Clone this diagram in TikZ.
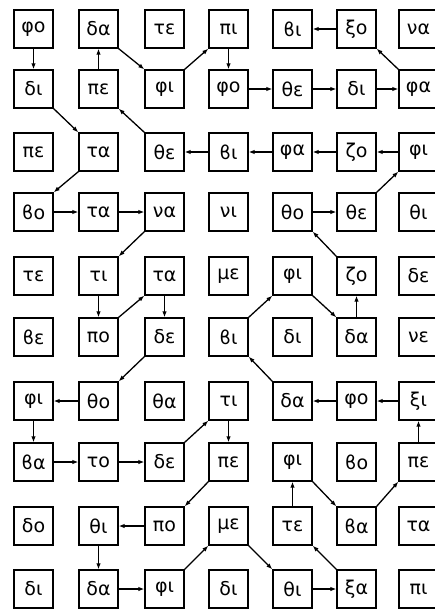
\documentclass[tikz,border=0pt]{standalone}
\usepackage{fontspec}
\setmainfont{DejaVu Sans}
\usetikzlibrary{arrows.meta}
\tikzset{
  box/.style={draw, line width=1.3pt, minimum width=39pt, minimum height=38pt, inner sep=0pt, font=\fontsize{19}{19}\selectfont},
  arr/.style={line width=1.3pt, -{Latex[length=6pt,width=4.5pt]}}
}
\begin{document}
\begin{tikzpicture}[x=1pt,y=-1pt]
\useasboundingbox (0,0) rectangle (435,610);
\clip (0,0) rectangle (435,610);
% row 1 (y=29)
\node[box] (n-1-1) at (33.5,29) {φο};
\node[box] (n-1-2) at (98.5,29) {δα};
\node[box] (n-1-3) at (164.5,29) {τε};
\node[box] (n-1-4) at (228.5,29) {πι};
\node[box] (n-1-5) at (292.5,29) {ϐι};
\node[box] (n-1-6) at (356.5,29) {ξο};
\node[box] (n-1-7) at (418.5,29) {να};
% row 2 (y=89)
\node[box] (n-2-1) at (33.5,89) {δι};
\node[box] (n-2-2) at (98.5,89) {πε};
\node[box] (n-2-3) at (164.5,89) {φι};
\node[box] (n-2-4) at (228.5,89) {φο};
\node[box] (n-2-5) at (292.5,89) {θε};
\node[box] (n-2-6) at (356.5,89) {δι};
\node[box] (n-2-7) at (418.5,89) {φα};
% row 3 (y=152)
\node[box] (n-3-1) at (33.5,152) {πε};
\node[box] (n-3-2) at (98.5,152) {τα};
\node[box] (n-3-3) at (164.5,152) {θε};
\node[box] (n-3-4) at (228.5,152) {ϐι};
\node[box] (n-3-5) at (292.5,152) {φα};
\node[box] (n-3-6) at (356.5,152) {ζο};
\node[box] (n-3-7) at (418.5,152) {φι};
% row 4 (y=212)
\node[box] (n-4-1) at (33.5,212) {ϐο};
\node[box] (n-4-2) at (98.5,212) {τα};
\node[box] (n-4-3) at (164.5,212) {να};
\node[box] (n-4-4) at (228.5,212) {νι};
\node[box] (n-4-5) at (292.5,212) {θο};
\node[box] (n-4-6) at (356.5,212) {θε};
\node[box] (n-4-7) at (418.5,212) {θι};
% row 5 (y=276)
\node[box] (n-5-1) at (33.5,276) {τε};
\node[box] (n-5-2) at (98.5,276) {τι};
\node[box] (n-5-3) at (164.5,276) {τα};
\node[box] (n-5-4) at (228.5,276) {με};
\node[box] (n-5-5) at (292.5,276) {φι};
\node[box] (n-5-6) at (356.5,276) {ζο};
\node[box] (n-5-7) at (418.5,276) {δε};
% row 6 (y=337)
\node[box] (n-6-1) at (33.5,337) {ϐε};
\node[box] (n-6-2) at (98.5,337) {πο};
\node[box] (n-6-3) at (164.5,337) {δε};
\node[box] (n-6-4) at (228.5,337) {ϐι};
\node[box] (n-6-5) at (292.5,337) {δι};
\node[box] (n-6-6) at (356.5,337) {δα};
\node[box] (n-6-7) at (418.5,337) {νε};
% row 7 (y=401)
\node[box] (n-7-1) at (33.5,401) {φι};
\node[box] (n-7-2) at (98.5,401) {θο};
\node[box] (n-7-3) at (164.5,401) {θα};
\node[box] (n-7-4) at (228.5,401) {τι};
\node[box] (n-7-5) at (292.5,401) {δα};
\node[box] (n-7-6) at (356.5,401) {φο};
\node[box] (n-7-7) at (418.5,401) {ξι};
% row 8 (y=462)
\node[box] (n-8-1) at (33.5,462) {ϐα};
\node[box] (n-8-2) at (98.5,462) {το};
\node[box] (n-8-3) at (164.5,462) {δε};
\node[box] (n-8-4) at (228.5,462) {πε};
\node[box] (n-8-5) at (292.5,462) {φι};
\node[box] (n-8-6) at (356.5,462) {ϐο};
\node[box] (n-8-7) at (418.5,462) {πε};
% row 9 (y=526)
\node[box] (n-9-1) at (33.5,526) {δο};
\node[box] (n-9-2) at (98.5,526) {θι};
\node[box] (n-9-3) at (164.5,526) {πο};
\node[box] (n-9-4) at (228.5,526) {με};
\node[box] (n-9-5) at (292.5,526) {τε};
\node[box] (n-9-6) at (356.5,526) {ϐα};
\node[box] (n-9-7) at (418.5,526) {τα};
% row 10 (y=589)
\node[box] (n-10-1) at (33.5,589) {δι};
\node[box] (n-10-2) at (98.5,589) {δα};
\node[box] (n-10-3) at (164.5,589) {φι};
\node[box] (n-10-4) at (228.5,589) {δι};
\node[box] (n-10-5) at (292.5,589) {θι};
\node[box] (n-10-6) at (356.5,589) {ξα};
\node[box] (n-10-7) at (418.5,589) {πι};
% arrows
\draw[arr] (n-1-1) -- (n-2-1);
\draw[arr] (n-2-2) -- (n-1-2);
\draw[arr] (n-1-2.south east) -- (n-2-3.north west);
\draw[arr] (n-2-3.north east) -- (n-1-4.south west);
\draw[arr] (n-1-4) -- (n-2-4);
\draw[arr] (n-2-4) -- (n-2-5);
\draw[arr] (n-2-5) -- (n-2-6);
\draw[arr] (n-2-6) -- (n-2-7);
\draw[arr] (n-2-7.north west) -- (n-1-6.south east);
\draw[arr] (n-1-6) -- (n-1-5);
\draw[arr] (n-2-1.south east) -- (n-3-2.north west);
\draw[arr] (n-3-3.north west) -- (n-2-2.south east);
\draw[arr] (n-3-4) -- (n-3-3);
\draw[arr] (n-3-5) -- (n-3-4);
\draw[arr] (n-3-6) -- (n-3-5);
\draw[arr] (n-3-7) -- (n-3-6);
\draw[arr] (n-4-6.north east) -- (n-3-7.south west);
\draw[arr] (n-4-5) -- (n-4-6);
\draw[arr] (n-5-6.north west) -- (n-4-5.south east);
\draw[arr] (n-6-6) -- (n-5-6);
\draw[arr] (n-5-5.south east) -- (n-6-6.north west);
\draw[arr] (n-6-4.north east) -- (n-5-5.south west);
\draw[arr] (n-7-5.north west) -- (n-6-4.south east);
\draw[arr] (n-7-6) -- (n-7-5);
\draw[arr] (n-7-7) -- (n-7-6);
\draw[arr] (n-8-7) -- (n-7-7);
\draw[arr] (n-9-6.north east) -- (n-8-7.south west);
\draw[arr] (n-8-5.south east) -- (n-9-6.north west);
\draw[arr] (n-9-5) -- (n-8-5);
\draw[arr] (n-10-6.north west) -- (n-9-5.south east);
\draw[arr] (n-10-5) -- (n-10-6);
\draw[arr] (n-9-4.south east) -- (n-10-5.north west);
\draw[arr] (n-10-3.north east) -- (n-9-4.south west);
\draw[arr] (n-10-2) -- (n-10-3);
\draw[arr] (n-9-2) -- (n-10-2);
\draw[arr] (n-9-3) -- (n-9-2);
\draw[arr] (n-8-4.south west) -- (n-9-3.north east);
\draw[arr] (n-7-4) -- (n-8-4);
\draw[arr] (n-8-3.north east) -- (n-7-4.south west);
\draw[arr] (n-8-2) -- (n-8-3);
\draw[arr] (n-8-1) -- (n-8-2);
\draw[arr] (n-7-1) -- (n-8-1);
\draw[arr] (n-7-2) -- (n-7-1);
\draw[arr] (n-6-3.south west) -- (n-7-2.north east);
\draw[arr] (n-5-3) -- (n-6-3);
\draw[arr] (n-6-2.north east) -- (n-5-3.south west);
\draw[arr] (n-5-2) -- (n-6-2);
\draw[arr] (n-4-3.south west) -- (n-5-2.north east);
\draw[arr] (n-4-2) -- (n-4-3);
\draw[arr] (n-4-1) -- (n-4-2);
\draw[arr] (n-3-2.south west) -- (n-4-1.north east);
\end{tikzpicture}
\end{document}
